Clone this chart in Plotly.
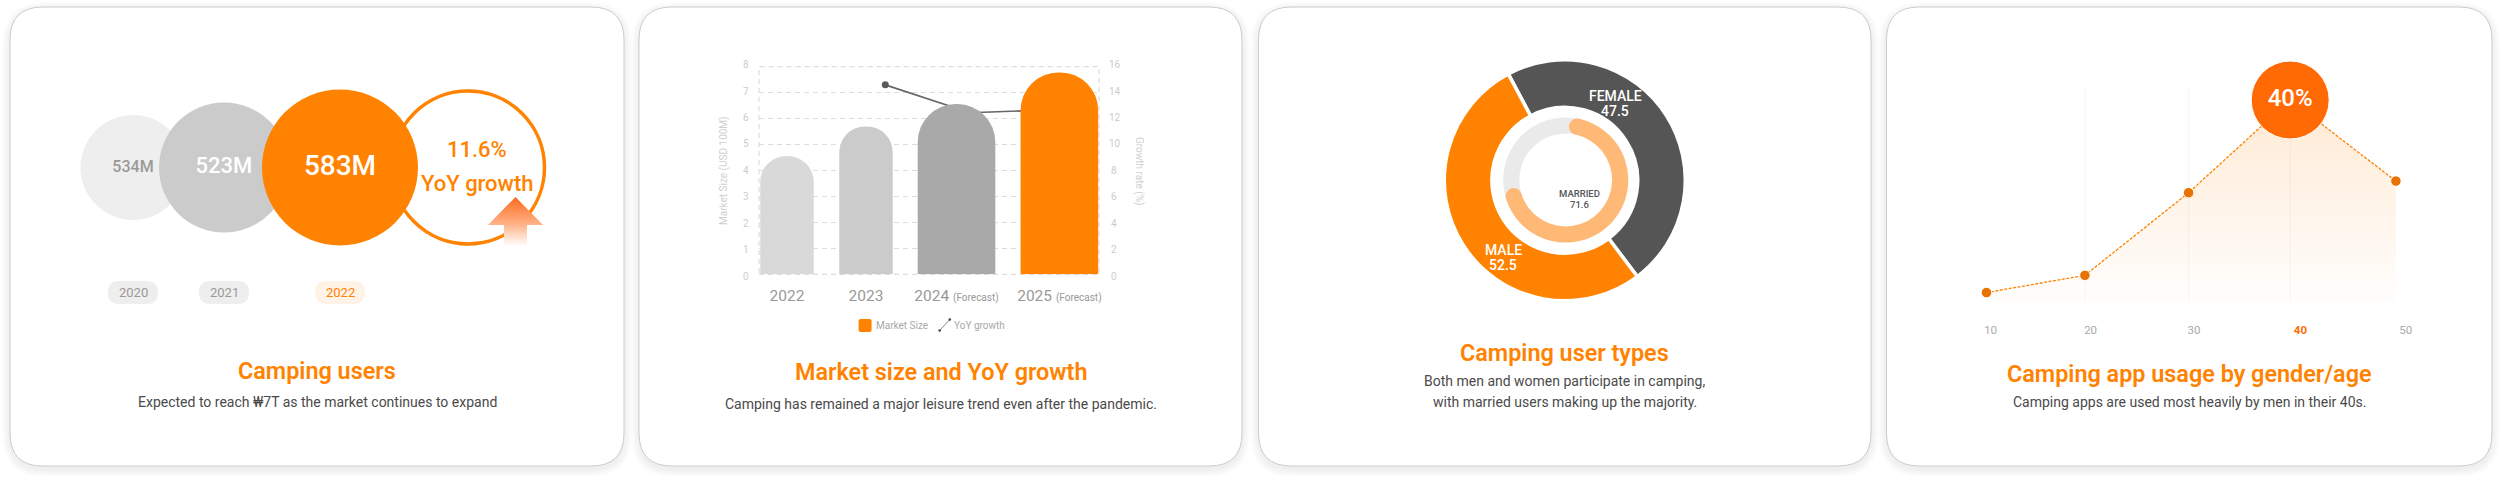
import math
import plotly.graph_objects as go

# ---------- data ----------
USER_YEARS = ["2020", "2021", "2022"]
USERS_M = [534, 523, 583]
USER_GROWTH = 11.6

MARKET_YEARS = ["2022", "2023", "2024", "2025"]
MARKET_SIZE = [4.56, 5.7, 6.56, 7.78]
GROWTH_YEARS = ["2023", "2024", "2025"]
YOY_GROWTH = [14.6, 12.45, 12.7]

GENDER_LABELS = ["FEMALE", "MALE"]
GENDER_VALUES = [47.5, 52.5]
MARRIED = 71.6

AGE_GROUPS = ["10", "20", "30", "40", "50"]
APP_USAGE = [2, 5.4, 21.7, 40, 24]

# ---------- styles and layout constants (pixels) ----------
W, H = 2500, 480
ORANGE = "#ff8200"
FONT = "Roboto"
CARDS = [(10, 624), (639, 1242), (1258.5, 1871), (1886.5, 2492)]
CARD_TOP, CARD_BOTTOM, CARD_R = 7, 466, 33


def xp(x):
    return x / W


def yp(y):
    return 1 - y / H


def rrect(x0, y0, x1, y1, r):
    X0, X1, Y0, Y1 = xp(x0), xp(x1), yp(y0), yp(y1)
    rx, ry = r / W, r / H
    return (f"M {X0+rx} {Y0} L {X1-rx} {Y0} Q {X1} {Y0} {X1} {Y0-ry} L {X1} {Y1+ry} Q {X1} {Y1} {X1-rx} {Y1} "
            f"L {X0+rx} {Y1} Q {X0} {Y1} {X0} {Y1+ry} L {X0} {Y0-ry} Q {X0} {Y0} {X0+rx} {Y0} Z")


shapes, annos = [], []


def rr_shape(x0, y0, x1, y1, r, fill, line=None, lw=0, layer="below"):
    shapes.append(dict(type="path", path=rrect(x0, y0, x1, y1, r), xref="paper", yref="paper", layer=layer,
                       fillcolor=fill, line=dict(color=line or "rgba(0,0,0,0)", width=lw)))


def label(x, y, text, size, color, weight=400, angle=0, anchor="center"):
    annos.append(dict(x=xp(x), y=yp(y), xref="paper", yref="paper", text=text, showarrow=False, xanchor=anchor,
                      yanchor="middle", textangle=angle, borderpad=0,
                      font=dict(family=FONT, size=size, color=color, weight=weight)))


# cards with soft shadow
for x0, x1 in CARDS:
    for k in range(8, 0, -1):
        rr_shape(x0 - k, CARD_TOP - k + 3, x1 + k, CARD_BOTTOM + k + 3, CARD_R + k, "rgba(0,0,0,0.009)")
    rr_shape(x0, CARD_TOP, x1, CARD_BOTTOM, CARD_R, "#ffffff", "#cccccc", 1)

# titles and subtitles
TEXTS = [
    (317, 371, "Camping users", [(402, "Expected to reach ₩7T as the market continues to expand")]),
    (941, 372, "Market size and YoY growth", [(404, "Camping has remained a major leisure trend even after the pandemic.")]),
    (1564.5, 353, "Camping user types", [(381, "Both men and women participate in camping,"),
                                         (402, "with married users making up the majority.")]),
    (2189.5, 374, "Camping app usage by gender/age", [(402, "Camping apps are used most heavily by men in their 40s.")]),
]
for cx, ty, title, subs in TEXTS:
    label(cx, ty, title, 23.4, ORANGE, 600)
    for sy, s in subs:
        label(cx, sy, s, 14, "#4a4a4a")

fig = go.Figure()

# ---------- panel 1: bubbles ----------
BUB_X = [133, 224, 340]
BUB_D = [105, 130, 156]
BUB_Y = 167.5
OUT_X = 468
fig.add_trace(go.Scatter(x=[OUT_X], y=[BUB_Y], mode="markers", hoverinfo="skip",
                         marker=dict(size=153, opacity=1, color="#ffffff", line=dict(color=ORANGE, width=3.5))))
# growth arrow (decoration)
AX, AT, AH, AB, AHW, ASW = 515.5, 197, 225, 246, 27.5, 11.5
fig.add_trace(go.Scatter(
    x=[AX, AX + AHW, AX + ASW, AX + ASW, AX - ASW, AX - ASW, AX - AHW, AX],
    y=[AT, AH, AH, AB, AB, AH, AH, AT], mode="lines", line=dict(width=0), fill="toself", hoverinfo="skip",
    fillgradient=dict(type="vertical", start=AT, stop=AB,
                      colorscale=[[0, "#fb6a1e"], [0.57, "#ffb48a"], [1, "#ffffff"]])))
fig.add_trace(go.Scatter(
    x=BUB_X, y=[BUB_Y] * 3, mode="markers+text", hoverinfo="skip",
    marker=dict(size=BUB_D, opacity=1, color=["#eeeeee", "#cbcbcb", ORANGE], line=dict(width=0)),
    text=[f"{v}M" for v in USERS_M], textposition="middle center",
    textfont=dict(family=FONT, size=[16, 22, 28], color=["#9a9a9a", "#ffffff", "#ffffff"], weight=[500, 500, 500])))
label(477, 149, f"{USER_GROWTH}%", 22, ORANGE, 500)
label(477, 183, "YoY growth", 22, ORANGE, 500)
for x, yr, bg, col in zip(BUB_X, USER_YEARS, ["#eeeeee", "#eeeeee", "#fff3e8"], ["#999999", "#999999", ORANGE]):
    rr_shape(x - 25, 281, x + 25, 304, 11.5, bg)
    label(x, 292.5, yr, 13, col)

# ---------- panel 2: bars + line ----------
BAR_X = [787, 866, 956.5, 1059.4]
BAR_W = [53.5, 53.5, 77.6, 77.6]
BAR_COL = ["#d9d9d9", "#cbcbcb", "#a9a9a9", ORANGE]
LINE_X = [885.3, 970, 1059.4]
PL, PR, PT, PB = 759, 1099, 66.7, 274.3
# line is on the base axis, bars on the overlay so that the bars hide the line
fig.add_trace(go.Scatter(x=LINE_X, y=YOY_GROWTH, xaxis="x2", yaxis="y2", mode="lines+markers", hoverinfo="skip",
                         line=dict(color="#666666", width=1.6), marker=dict(size=7, color="#5a5a5a")))
fig.add_trace(go.Bar(x=BAR_X, y=MARKET_SIZE, width=BAR_W, xaxis="x2", yaxis="y3", hoverinfo="skip",
                     marker=dict(color=BAR_COL, cornerradius="50%", line=dict(width=0))))
fig.add_trace(go.Scatter(x=[None], y=[None], xaxis="x2", yaxis="y4", hoverinfo="skip"))
fig.add_trace(go.Scatter(x=[None], y=[None], xaxis="x2", yaxis="y5", hoverinfo="skip"))
shapes.append(dict(type="rect", xref="x2 domain", yref="y2 domain", x0=0, x1=1, y0=0, y1=1, layer="below",
                   line=dict(color="#dddddd", width=1.2, dash="5px,4px")))
label(724, 171, "Market Size (USD 100M)", 10, "#cfcfcf", angle=-90)
label(1139, 171, "Growth rate (%)", 10, "#cfcfcf", angle=90)
# legend
rr_shape(858.6, 319, 871.6, 332, 2, ORANGE)
label(874.5, 325.5, "Market Size", 10, "#a8a8a8", anchor="left")
LEG_X, LEG_Y = [939.6, 949.8], [330.5, 319.5]
fig.add_trace(go.Scatter(x=LEG_X, y=LEG_Y, mode="lines+markers", hoverinfo="skip",
                         line=dict(color="#666666", width=0.8), marker=dict(size=2.5, color="#444444")))
label(953, 325.5, "YoY growth", 10, "#a8a8a8", anchor="left")

# ---------- panel 3: donuts ----------
DC = (1564.8, 180.3)
DR = 120.5
fig.add_trace(go.Pie(values=GENDER_VALUES, labels=GENDER_LABELS, sort=False, direction="clockwise", rotation=-28,
                     hole=0.605, textinfo="none", hoverinfo="skip", showlegend=False,
                     marker=dict(colors=["#555555", ORANGE], line=dict(color="#ffffff", width=3.5)),
                     domain=dict(x=[xp(DC[0] - DR), xp(DC[0] + DR)], y=[yp(DC[1] + DR), yp(DC[1] - DR)])))
IC = (1565.7, 180)
IR, IH = 62.6, 46.4
MID = (IR + IH) / 2
CAP_R = (IR - IH) / 2
CAP_PCT = 2 * math.degrees(CAP_R / MID) / 3.6
START = 12
fig.add_trace(go.Pie(values=[MARRIED - CAP_PCT, 100 - MARRIED + CAP_PCT], labels=["Married", "Other"], sort=False,
                     direction="clockwise", rotation=START, hole=IH / IR, textinfo="none", hoverinfo="skip",
                     showlegend=False, marker=dict(colors=["#ffb976", "#eaeaea"], line=dict(width=0)),
                     domain=dict(x=[xp(IC[0] - IR), xp(IC[0] + IR)], y=[yp(IC[1] + IR), yp(IC[1] - IR)])))
for ang in (START, START + (MARRIED - CAP_PCT) * 3.6):
    cx = IC[0] + MID * math.sin(math.radians(ang))
    cy = IC[1] - MID * math.cos(math.radians(ang))
    shapes.append(dict(type="circle", xref="x", yref="y", layer="above", x0=cx - CAP_R, x1=cx + CAP_R,
                       y0=cy - CAP_R, y1=cy + CAP_R, fillcolor="#ffb976", line=dict(width=0)))
label(1615, 96.3, GENDER_LABELS[0], 14, "#ffffff", 500)
label(1615, 111, str(GENDER_VALUES[0]), 14, "#ffffff", 500)
label(1503, 250, GENDER_LABELS[1], 14, "#ffffff", 500)
label(1503, 265, str(GENDER_VALUES[1]), 14, "#ffffff", 500)
label(1579.8, 193.3, "MARRIED", 9.5, "#555555", 500)
label(1579.8, 204, str(MARRIED), 9.5, "#555555", 500)

# ---------- panel 4: line ----------
AGE_X = [1986.5, 2084.9, 2188.6, 2290.2, 2395.9]
AGE_LABEL_X = [1990.6, 2090.6, 2193.9, 2300.4, 2405.7]
LB, LT = 302.7, 62
PX_PER = (302.7 - 100) / max(APP_USAGE)
L_TOP = (LB - LT) / PX_PER
GRID_TOP = (LB - 88) / PX_PER
for x in AGE_X[1:4]:
    shapes.append(dict(type="line", xref="x6", yref="y6", layer="below", x0=x, x1=x, y0=0, y1=GRID_TOP,
                       line=dict(color="#f5f5f5", width=1)))
peak = APP_USAGE.index(max(APP_USAGE))
fig.add_trace(go.Scatter(
    x=AGE_X, y=APP_USAGE, xaxis="x6", yaxis="y6", mode="lines+markers+text", hoverinfo="skip", cliponaxis=False,
    fill="tozeroy",
    fillgradient=dict(type="vertical", start=0, stop=max(APP_USAGE),
                      colorscale=[[0, "rgba(255,130,0,0.01)"], [1, "rgba(255,130,0,0.17)"]]),
    line=dict(color=ORANGE, width=1.3, dash="3px,1.5px"),
    marker=dict(size=[78 if i == peak else 10.5 for i in range(5)],
                color=["#ff6a05" if i == peak else "#e87202" for i in range(5)],
                line=dict(color="#ffffff", width=1), opacity=1),
    text=[f"{v}%" if i == peak else "" for i, v in enumerate(APP_USAGE)], textposition="middle center",
    textfont=dict(family=FONT, size=24, color="#ffffff", weight=500)))

AGE_TICKS = [f"<b><span style='color:#ff6a05'>{a}</span></b>" if i == peak else a for i, a in enumerate(AGE_GROUPS)]

# ---------- layout ----------
hidden = dict(visible=False, showgrid=False, zeroline=False)
GROWTH_TICKS = [0, 2, 4, 6, 8, 10, 12, 14, 16]
layout = dict(
    width=W, height=H, margin=dict(l=0, r=0, t=0, b=0, pad=0, autoexpand=False),
    paper_bgcolor="#ffffff", plot_bgcolor="rgba(0,0,0,0)",
    showlegend=False, barmode="overlay", shapes=shapes, annotations=annos,
    font=dict(family=FONT),
    xaxis=dict(range=[0, W], domain=[0, 1], **hidden),
    yaxis=dict(range=[H, 0], domain=[0, 1], **hidden),
    xaxis2=dict(range=[PL, PR], domain=[xp(PL), xp(PR)], anchor="y2", zeroline=False, showgrid=False, showline=False,
                tickmode="array", tickvals=BAR_X,
                ticktext=[y if i < 2 else f"{y} <span style='font-size:10px'>(Forecast)</span>"
                          for i, y in enumerate(MARKET_YEARS)],
                tickangle=0, ticks="outside", ticklen=7, tickcolor="rgba(0,0,0,0)",
                tickfont=dict(family=FONT, size=15.5, color="#999999")),
    yaxis2=dict(range=[0, 16], domain=[yp(PB), yp(PT)], anchor="x2", tickmode="array", tickvals=GROWTH_TICKS,
                showticklabels=False, ticks="", showgrid=True, gridcolor="#dddddd", griddash="5px,4px", gridwidth=1.2,
                zeroline=False),
    yaxis3=dict(range=[0, 8], domain=[yp(PB), yp(PT)], overlaying="y2", anchor="x2", showgrid=False, zeroline=False,
                showticklabels=False, ticks=""),
    yaxis4=dict(range=[0, 8], domain=[yp(276), yp(64.7)], anchor="free", position=xp(748.5), side="left", showgrid=False,
                zeroline=False, tickmode="array", tickvals=list(range(9)), ticks="",
                tickfont=dict(family=FONT, size=10, color="#cccccc")),
    yaxis5=dict(range=[0, 16], domain=[yp(276), yp(64.7)], anchor="free", position=xp(1108), side="right",
                showgrid=False, zeroline=False, tickmode="array", tickvals=GROWTH_TICKS,
                ticktext=[("\u2009" + str(t)) if t < 10 else str(t) for t in GROWTH_TICKS], ticks="",
                tickfont=dict(family=FONT, size=10, color="#cccccc")),
    xaxis6=dict(range=[1978, 2412], domain=[xp(1978), xp(2412)], anchor="y6", showgrid=False, zeroline=False,
                tickmode="array", tickvals=AGE_LABEL_X, ticktext=AGE_TICKS, ticks="outside", ticklen=16,
                tickcolor="rgba(0,0,0,0)", tickfont=dict(family=FONT, size=11.5, color="#aaaaaa")),
    yaxis6=dict(range=[0, L_TOP], domain=[yp(LB), yp(LT)], anchor="x6", showgrid=False, zeroline=False,
                showticklabels=False, ticks=""),
)
fig.update_layout(**layout)

fig.write_html("out.html", config=dict(displayModeBar=False),
               post_script="document.body.style.margin='0';document.body.style.overflow='hidden';")
